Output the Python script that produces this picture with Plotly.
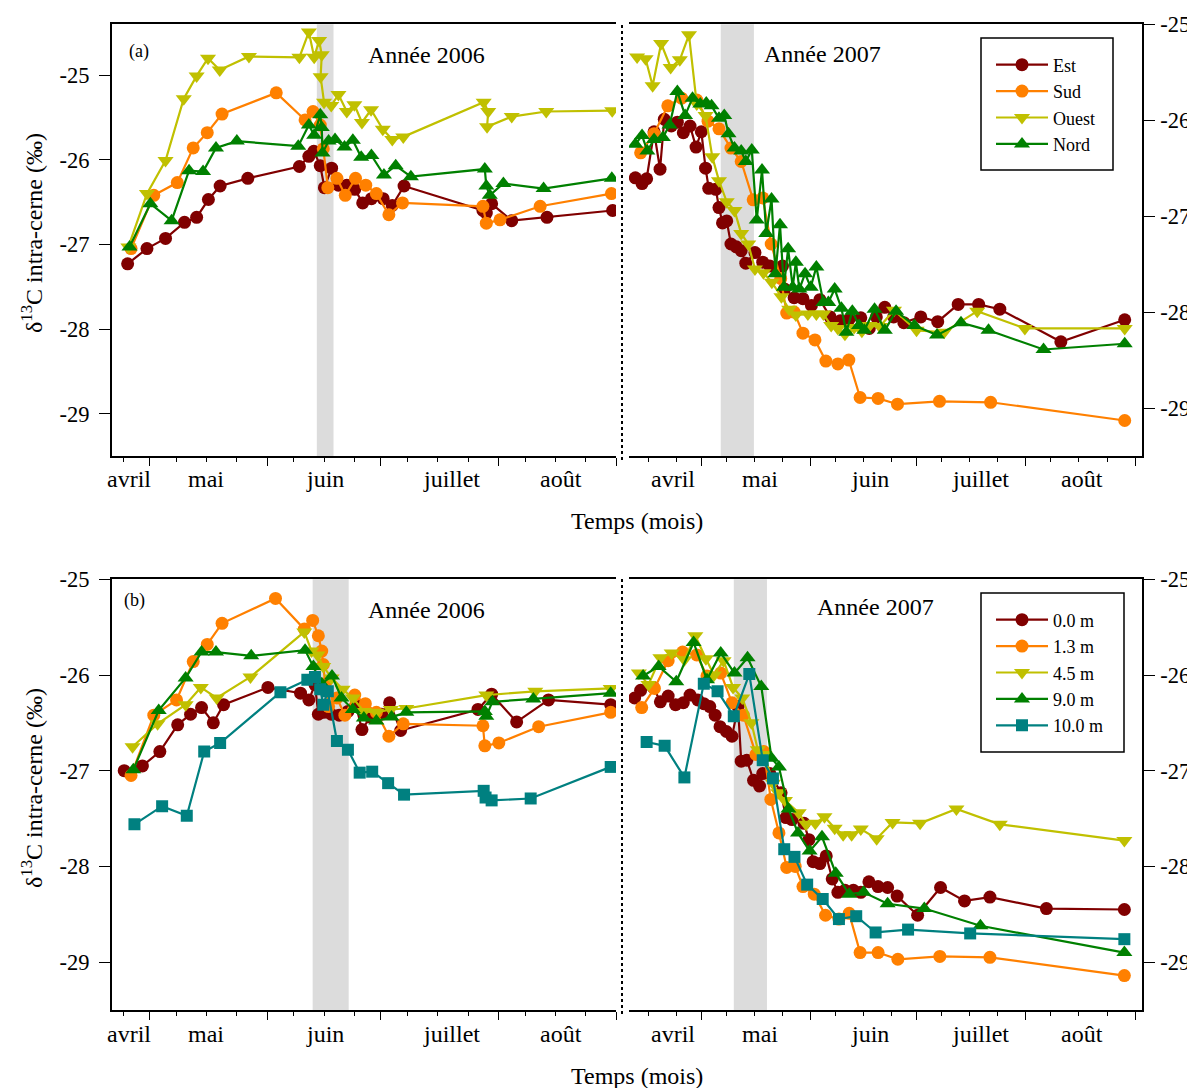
import plotly.graph_objects as go

# ---------------- DATA (day of year, d13C permil) ----------------
# Panel (a) 2006 - orientations
est_06_doy = [115.2,120.3,125.2,130.2,133.4,136.5,139.6,146.9,160.5,163.0,164.3,166.0,167.1,169.0,170.8,173.0,175.1,177.2,179.5,182.6,185.0,188.1,208.9,209.8,211.2,216.5,225.8,243.1]
est_06_val = [-27.23,-27.05,-26.93,-26.74,-26.68,-26.47,-26.31,-26.22,-26.08,-25.96,-25.90,-26.07,-26.33,-26.10,-26.30,-26.30,-26.35,-26.51,-26.46,-26.46,-26.54,-26.31,-26.60,-26.63,-26.52,-26.72,-26.68,-26.60]
sud_06_doy = [116.1,122.1,128.3,132.5,136.2,140.1,154.4,162.0,164.1,166.0,166.8,168.0,170.4,172.6,175.3,178.0,180.8,184.1,187.7,208.9,209.8,213.4,224.0,242.8]
sud_06_val = [-27.05,-26.42,-26.27,-25.86,-25.68,-25.46,-25.21,-25.53,-25.43,-25.59,-25.87,-26.33,-26.22,-26.42,-26.22,-26.30,-26.40,-26.65,-26.51,-26.55,-26.75,-26.71,-26.55,-26.40]
ouest_06_doy = [115.4,120.3,125.2,130.0,133.4,136.4,139.5,147.2,160.5,163.0,164.4,165.7,166.4,166.1,167.0,168.9,170.8,173.0,175.0,177.0,179.4,182.5,185.0,187.9,209.1,210.3,210.0,216.5,225.6,243.0]
ouest_06_val = [-27.03,-26.40,-26.01,-25.28,-25.01,-24.80,-24.94,-24.78,-24.79,-24.49,-24.79,-24.59,-24.76,-25.02,-25.32,-25.36,-25.23,-25.43,-25.35,-25.56,-25.41,-25.64,-25.76,-25.73,-25.32,-25.43,-25.61,-25.49,-25.43,-25.42]
nord_06_doy = [115.7,121.2,126.8,131.4,135.1,138.5,144.0,160.2,163.0,164.4,166.0,166.4,166.6,168.2,169.9,172.4,174.6,176.8,179.5,182.8,185.9,189.9,209.4,209.8,210.7,214.3,224.9,242.9]
nord_06_val = [-27.03,-26.52,-26.72,-26.13,-26.14,-25.86,-25.78,-25.84,-25.59,-25.71,-25.47,-25.62,-25.92,-25.78,-25.76,-25.85,-25.77,-25.97,-25.95,-26.18,-26.07,-26.20,-26.11,-26.31,-26.42,-26.28,-26.34,-26.22]

# Panel (a) 2007 - orientations
est_07_doy = [102.3,104.2,105.5,107.6,109.3,110.5,112.5,114.2,115.9,117.8,119.5,121.0,122.2,123.1,125.1,126.0,127.0,128.2,129.4,130.9,132.3,133.6,136.2,138.4,140.4,144.0,144.6,147.3,149.8,152.2,154.6,157.5,160.4,162.8,166.2,168.6,170.6,173.0,175.5,178.4,183.2,188.0,193.8,199.6,205.6,222.9,241.0]
est_07_val = [-26.60,-26.66,-26.61,-26.12,-26.51,-25.99,-26.06,-26.02,-26.13,-26.06,-26.28,-26.12,-26.50,-26.71,-26.72,-26.91,-27.07,-27.05,-27.29,-27.32,-27.36,-27.49,-27.38,-27.48,-27.52,-27.52,-27.76,-27.85,-27.86,-27.93,-27.87,-28.05,-28.09,-28.08,-28.06,-28.17,-28.05,-27.95,-28.05,-28.11,-28.05,-28.10,-27.92,-27.92,-27.97,-28.31,-28.08]
sud_07_doy = [103.8,107.6,111.5,115.4,119.7,122.9,126.0,129.4,132.3,135.7,138.4,140.8,143.5,145.2,147.3,149.8,153.2,156.3,159.7,162.8,166.0,171.1,176.6,188.5,203.0,241.0]
sud_07_val = [-26.34,-26.14,-25.85,-25.77,-25.79,-26.01,-26.09,-26.29,-26.43,-26.83,-26.81,-27.29,-27.65,-28.01,-28.00,-28.22,-28.29,-28.51,-28.54,-28.50,-28.89,-28.90,-28.96,-28.93,-28.94,-29.13]
ouest_07_doy = [102.8,105.2,107.2,109.6,112.3,114.9,117.5,119.7,122.2,124.1,126.0,128.2,130.4,132.3,134.3,136.2,138.6,141.0,143.7,145.9,147.8,151.2,153.6,155.6,157.8,159.7,161.7,164.3,166.5,168.7,171.6,175.6,182.0,189.8,199.2,212.7,241.0]
ouest_07_val = [-25.34,-25.36,-25.64,-25.20,-25.45,-25.37,-25.11,-25.83,-25.95,-26.38,-26.63,-26.85,-26.94,-27.18,-27.29,-27.55,-27.59,-27.69,-27.84,-27.97,-28.03,-28.02,-28.02,-28.02,-28.14,-28.17,-28.23,-28.16,-28.20,-28.14,-28.15,-27.98,-28.19,-28.21,-27.99,-28.17,-28.17]
nord_07_doy = [102.3,104.2,105.7,107.6,110.1,112.0,114.2,116.4,118.5,120.7,122.4,123.9,126.0,127.5,128.7,130.4,132.3,133.6,135.3,136.7,138.2,139.4,140.9,142.0,143.3,144.4,145.6,146.9,147.8,148.8,150.4,152.0,153.6,155.6,157.0,158.8,160.7,162.1,163.8,165.7,167.2,170.1,173.0,176.2,181.4,187.8,194.6,202.4,218.0,241.0]
nord_07_val = [-26.25,-26.16,-26.32,-26.20,-26.18,-26.05,-25.70,-25.95,-25.77,-25.83,-25.82,-25.85,-25.98,-25.95,-26.14,-26.29,-26.32,-26.43,-26.31,-27.04,-26.52,-27.18,-26.82,-27.60,-27.09,-27.74,-27.34,-27.74,-27.48,-27.76,-27.60,-27.74,-27.53,-27.90,-27.90,-27.76,-27.96,-28.21,-27.99,-28.14,-28.19,-27.97,-28.19,-27.99,-28.14,-28.24,-28.11,-28.19,-28.39,-28.33]

# Panel (b) 2006 - heights
h00_06_doy = [114.3,119.1,123.7,128.4,131.8,134.7,137.8,140.5,152.2,160.8,163.0,164.6,165.5,166.9,168.9,171.0,173.3,175.4,177.0,179.2,182.2,184.3,187.2,207.6,211.2,217.8,226.2,242.6]
h00_06_val = [-27.00,-26.95,-26.80,-26.52,-26.41,-26.34,-26.50,-26.31,-26.13,-26.19,-26.26,-26.10,-26.41,-26.39,-26.41,-26.42,-26.38,-26.31,-26.57,-26.44,-26.41,-26.29,-26.58,-26.36,-26.20,-26.49,-26.26,-26.31]
h13_06_doy = [116.1,122.1,128.1,132.5,136.2,140.1,154.2,161.8,164.0,165.5,166.4,166.8,167.3,168.2,170.4,172.5,175.1,177.9,180.8,184.1,187.9,208.9,209.4,213.1,223.6,242.6]
h13_06_val = [-27.05,-26.42,-26.26,-25.86,-25.68,-25.46,-25.20,-25.52,-25.43,-25.59,-25.75,-25.89,-26.09,-26.33,-26.24,-26.42,-26.21,-26.30,-26.39,-26.64,-26.51,-26.53,-26.74,-26.71,-26.54,-26.39]
h45_06_doy = [116.5,123.1,130.5,134.5,138.7,147.6,161.8,163.7,165.3,166.8,169.0,171.9,174.6,177.5,180.8,184.6,188.7,209.8,222.7,242.6]
h45_06_val = [-26.75,-26.51,-26.31,-26.13,-26.24,-26.02,-25.55,-25.75,-25.79,-25.91,-26.03,-26.15,-26.24,-26.38,-26.39,-26.36,-26.35,-26.21,-26.17,-26.14]
h90_06_doy = [116.7,123.4,130.5,134.7,138.5,147.8,162.0,164.2,166.4,169.1,171.6,174.6,177.5,180.8,184.8,188.7,209.4,209.8,211.4,222.2,242.6]
h90_06_val = [-26.99,-26.37,-26.03,-25.76,-25.76,-25.80,-25.74,-25.91,-26.09,-26.01,-26.24,-26.36,-26.45,-26.48,-26.44,-26.39,-26.38,-26.43,-26.28,-26.25,-26.19]
h100_06_doy = [117.0,124.3,130.8,135.4,139.6,155.5,162.6,164.6,166.0,166.8,168.0,170.4,173.3,176.4,179.7,183.9,188.1,209.1,209.6,211.2,221.5,242.6]
h100_06_val = [-27.56,-27.37,-27.47,-26.80,-26.71,-26.18,-26.05,-26.02,-26.15,-26.31,-26.17,-26.69,-26.78,-27.02,-27.01,-27.13,-27.25,-27.21,-27.28,-27.31,-27.29,-26.96]

# Panel (b) 2007 - heights
h00_07_doy = [102.1,103.8,107.4,109.4,111.6,113.7,115.9,117.8,120.0,121.7,123.4,124.9,126.3,128.1,129.7,131.4,132.3,133.9,135.8,137.5,138.4,140.4,143.6,145.0,146.7,150.1,151.5,152.7,154.6,156.4,158.1,159.7,161.7,164.1,166.2,168.5,171.1,173.8,176.5,182.3,188.8,195.6,202.8,218.8,240.9]
h00_07_val = [-26.24,-26.16,-26.13,-26.28,-26.22,-26.31,-26.29,-26.21,-26.26,-26.30,-26.33,-26.42,-26.54,-26.59,-26.64,-26.33,-26.90,-26.89,-27.10,-27.16,-27.03,-27.03,-27.23,-27.49,-27.51,-27.55,-27.72,-27.95,-27.97,-27.89,-28.13,-28.27,-28.25,-28.25,-28.27,-28.16,-28.21,-28.22,-28.31,-28.51,-28.22,-28.36,-28.32,-28.44,-28.45]
h13_07_doy = [104.1,107.7,111.6,115.7,119.7,122.6,126.5,129.7,132.9,136.5,138.7,140.7,143.0,145.2,147.6,149.8,153.0,156.2,160.0,162.9,166.0,171.1,176.7,188.6,202.8,240.9]
h13_07_val = [-26.34,-26.14,-25.85,-25.76,-25.79,-26.01,-25.98,-26.29,-26.42,-26.83,-26.80,-27.30,-27.65,-28.01,-28.00,-28.21,-28.29,-28.51,-28.55,-28.49,-28.90,-28.90,-28.97,-28.94,-28.95,-29.14]
h45_07_doy = [103.3,106.0,109.4,112.6,116.2,119.3,122.3,124.6,127.3,130.0,132.6,135.2,137.0,138.9,141.3,142.8,144.7,148.6,150.7,153.3,155.9,158.8,161.2,163.6,166.2,170.7,175.2,183.0,193.3,205.6,240.9]
h45_07_val = [-25.98,-26.10,-25.82,-25.77,-25.84,-25.59,-25.83,-26.00,-25.85,-26.13,-26.24,-26.50,-26.78,-26.83,-27.13,-27.23,-27.31,-27.44,-27.56,-27.55,-27.48,-27.60,-27.67,-27.67,-27.61,-27.71,-27.54,-27.55,-27.40,-27.56,-27.73]
h90_07_doy = [104.5,108.9,113.9,118.8,122.6,126.5,130.4,134.1,138.0,140.9,143.0,145.7,148.4,151.7,155.2,159.1,162.9,167.0,173.8,184.2,200.1,240.9]
h90_07_val = [-26.01,-25.91,-26.07,-25.66,-26.05,-25.77,-25.98,-25.82,-26.12,-26.87,-26.96,-27.40,-27.65,-27.84,-27.69,-28.07,-28.29,-28.27,-28.39,-28.44,-28.62,-28.90]
h100_07_doy = [105.5,110.6,116.2,121.7,125.6,130.2,134.6,138.4,141.3,144.5,147.4,151.0,155.4,160.0,164.9,170.4,179.6,197.2,240.9]
h100_07_val = [-26.70,-26.74,-27.07,-26.09,-26.17,-26.43,-25.99,-26.89,-27.08,-27.82,-27.90,-28.19,-28.34,-28.55,-28.52,-28.69,-28.66,-28.70,-28.76]

# shaded periods (day of year)
band_06_a = [165.1, 169.5]
band_07_a = [126.5, 135.9]
band_06_b = [164.0, 173.5]
band_07_b = [130.2, 139.6]

month_names = ["avril", "mai", "juin", "juillet", "août"]
month_starts = [121, 152, 182, 213, 244]
month_label_doy_2006 = [115.6, 135.9, 167.3, 200.5, 229.5]
month_label_doy_2007 = [113.0, 137.7, 168.7, 200.2, 228.9]
minor_days = [98, 106, 114, 128, 136, 144, 159, 167, 175, 189, 197, 205, 220, 228, 236]
ytick_vals = [-25, -26, -27, -28, -29]
ytick_text = ["-25", "-26", "-27", "-28", "-29"]

# ---------------- STYLE / LAYOUT ----------------
OFF = 8                      # page body margin in the browser
W, H = 1195 - OFF, 1088 - OFF
LX0, LX1 = 111.7, 616.0      # reference-pixel geometry
RX0, RX1 = 629.0, 1142.0
TY0, TY1 = 24.3, 456.0
BY0, BY1 = 579.3, 1010.0
FONT = "Liberation Serif"

C_RED, C_ORA, C_YEL, C_GRN, C_TEA = "#800000", "#FF8000", "#C0C000", "#008000", "#008080"

def px(x):
    return (x - OFF) / W

def py(y):
    return 1 - (y - OFF) / H

fig = go.Figure()

def add(xs, ys, name, color, symbol, size, xa, ya, legend, show):
    fig.add_trace(go.Scatter(
        x=xs, y=ys, name=name, mode="lines+markers",
        line=dict(color=color, width=2.2),
        marker=dict(color=color, symbol=symbol, size=size, line=dict(width=0)),
        xaxis=xa, yaxis=ya, legend=legend, showlegend=show))

top = [("Est", C_RED, "circle", 13, est_06_doy, est_06_val, est_07_doy, est_07_val),
       ("Sud", C_ORA, "circle", 13, sud_06_doy, sud_06_val, sud_07_doy, sud_07_val),
       ("Ouest", C_YEL, "triangle-down", 14, ouest_06_doy, ouest_06_val, ouest_07_doy, ouest_07_val),
       ("Nord", C_GRN, "triangle-up", 14, nord_06_doy, nord_06_val, nord_07_doy, nord_07_val)]
for name, c, s, sz, x6, y6, x7, y7 in top:
    add(x6, y6, name, c, s, sz, "x", "y", "legend", False)
    add(x7, y7, name, c, s, sz, "x2", "y2", "legend", True)

bot = [("0.0 m", C_RED, "circle", 13, h00_06_doy, h00_06_val, h00_07_doy, h00_07_val),
       ("1.3 m", C_ORA, "circle", 13, h13_06_doy, h13_06_val, h13_07_doy, h13_07_val),
       ("4.5 m", C_YEL, "triangle-down", 14, h45_06_doy, h45_06_val, h45_07_doy, h45_07_val),
       ("9.0 m", C_GRN, "triangle-up", 14, h90_06_doy, h90_06_val, h90_07_doy, h90_07_val),
       ("10.0 m", C_TEA, "square", 12, h100_06_doy, h100_06_val, h100_07_doy, h100_07_val)]
for name, c, s, sz, x6, y6, x7, y7 in bot:
    add(x6, y6, name, c, s, sz, "x3", "y3", "legend2", False)
    add(x7, y7, name, c, s, sz, "x4", "y4", "legend2", True)

def xax(dom, rng, anchor):
    return dict(domain=dom, range=rng, anchor=anchor, showline=True, linecolor="black",
                linewidth=1.5, mirror=True, ticks="outside", ticklen=8, tickwidth=1.3,
                tickcolor="black", tickmode="array", tickvals=month_starts,
                showgrid=False, zeroline=False, showticklabels=False,
                minor=dict(tickvals=minor_days, ticks="outside", ticklen=4,
                           tickwidth=1, tickcolor="black", showgrid=False))

def yax(dom, rng, anchor, side):
    return dict(domain=dom, range=rng, anchor=anchor, side=side, showline=True,
                linecolor="black", linewidth=1.5, mirror=False, ticks="outside",
                ticklen=11, tickwidth=1.3, tickcolor="black", tickvals=ytick_vals,
                ticktext=ytick_text, showgrid=False, zeroline=False,
                tickfont=dict(family=FONT, size=22.5, color="black"),
                ticklabelstandoff=5 if side == "left" else 1)

LDOM = [px(LX0), px(LX1)]
RDOM = [px(RX0), px(RX1)]
TDOM = [py(TY1), py(TY0)]
BDOM = [py(BY1), py(BY0)]
L_RANGE = [111.0, 244.0]
R_RANGE = [100.5, 245.9]

leg_common = dict(xanchor="left", yanchor="top", borderwidth=0,
                  bgcolor="rgba(0,0,0,0)", font=dict(family=FONT, size=18, color="black"),
                  tracegroupgap=0, itemwidth=52)

fig.update_layout(
    width=W, height=H, margin=dict(l=0, r=0, t=0, b=0, autoexpand=False),
    paper_bgcolor="white", plot_bgcolor="white",
    font=dict(family=FONT, size=24, color="black"),
    xaxis=xax(LDOM, L_RANGE, "y"), yaxis=yax(TDOM, [-29.5, -24.4], "x", "left"),
    xaxis2=xax(RDOM, R_RANGE, "y2"), yaxis2=yax(TDOM, [-29.5, -25.0], "x2", "right"),
    xaxis3=xax(LDOM, L_RANGE, "y3"), yaxis3=yax(BDOM, [-29.5, -25.0], "x3", "left"),
    xaxis4=xax(RDOM, R_RANGE, "y4"), yaxis4=yax(BDOM, [-29.5, -25.0], "x4", "right"),
    legend=dict(x=px(991), y=py(46.5), **leg_common),
    legend2=dict(x=px(991), y=py(601.5), **leg_common),
)

shapes = []
for band, xr in [(band_06_a, "x"), (band_07_a, "x2"), (band_06_b, "x3"), (band_07_b, "x4")]:
    yr = xr.replace("x", "y") + " domain"
    shapes.append(dict(type="rect", xref=xr, yref=yr, x0=band[0], x1=band[1], y0=0, y1=1,
                       fillcolor="#DCDCDC", line=dict(width=0), layer="below"))
for y0, y1 in [(TY0 - 2, TY1 + 4), (BY0 - 2, BY1 + 4)]:
    shapes.append(dict(type="line", xref="paper", yref="paper", x0=px(622), x1=px(622),
                       y0=py(y1), y1=py(y0), line=dict(color="black", width=2, dash="dot")))
# legend frames
for (bx0, by0, bx1, by1) in [(981, 38, 1113, 170), (981, 593, 1124, 752)]:
    shapes.append(dict(type="rect", xref="paper", yref="paper", x0=px(bx0), x1=px(bx1),
                       y0=py(by1), y1=py(by0), fillcolor="white",
                       line=dict(color="black", width=1.5), layer="above"))
fig.update_layout(shapes=shapes)

ann = []
def text(x, y, t, size=24, angle=0):
    ann.append(dict(x=px(x), y=py(y), xref="paper", yref="paper", text=t, showarrow=False,
                    xanchor="center", yanchor="middle", textangle=angle,
                    font=dict(family=FONT, size=size, color="black")))

text(139, 51, "(a)", 18)
text(135, 600, "(b)", 18)
text(426, 55, "Année 2006")
text(426, 610, "Année 2006")
text(822, 54, "Année 2007")
text(875, 607, "Année 2007")
text(637, 521, "Temps (mois)")
text(637, 1076, "Temps (mois)")
ytitle = "δ<sup>13</sup>C intra-cerne (‰)"
text(32, 233, ytitle, 24, -90)
text(32, 788, ytitle, 24, -90)

for xr, yr, pos in [("x", 479, month_label_doy_2006), ("x2", 479, month_label_doy_2007),
                    ("x3", 1034, month_label_doy_2006), ("x4", 1034, month_label_doy_2007)]:
    for m, d in zip(month_names, pos):
        ann.append(dict(x=d, y=py(yr), xref=xr, yref="paper", text=m,
                        showarrow=False, xanchor="center", yanchor="middle",
                        font=dict(family=FONT, size=24, color="black")))

fig.update_layout(annotations=ann)
fig.write_html("out.html")
